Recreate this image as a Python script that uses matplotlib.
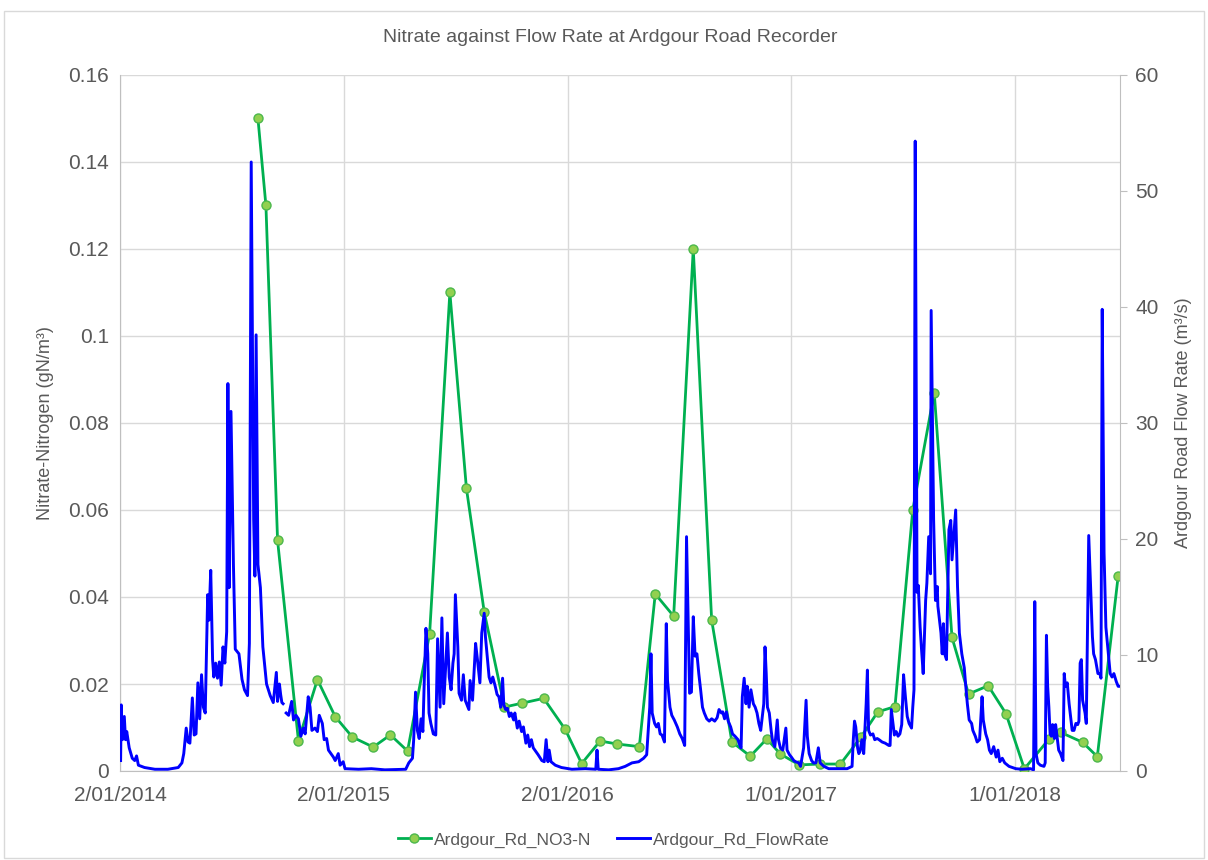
import numpy as np
import pandas as pd
import matplotlib
import matplotlib.pyplot as plt

matplotlib.use('Agg')

# ============================
# Data
# ============================

# Nitrate samples (gN/m3)
no3_dates = ["2014-08-15", "2014-08-28", "2014-09-16", "2014-10-20", "2014-11-20",
             "2014-12-19", "2015-01-16", "2015-02-19", "2015-03-19", "2015-04-16",
             "2015-05-22", "2015-06-24", "2015-07-21", "2015-08-19", "2015-09-21",
             "2015-10-20", "2015-11-24", "2015-12-29", "2016-01-25", "2016-02-24",
             "2016-03-23", "2016-04-28", "2016-05-24", "2016-06-23", "2016-07-25",
             "2016-08-24", "2016-09-26", "2016-10-26", "2016-11-22", "2016-12-14",
             "2017-01-14", "2017-02-16", "2017-03-22", "2017-04-25", "2017-05-22",
             "2017-06-19", "2017-07-18", "2017-08-22", "2017-09-20", "2017-10-17",
             "2017-11-18", "2017-12-17", "2018-01-16", "2018-02-25", "2018-03-16",
             "2018-04-21", "2018-05-15", "2018-06-18"]
no3_vals = [0.150, 0.130, 0.053, 0.007, 0.021,
            0.0125, 0.0078, 0.0055, 0.0083, 0.0046,
            0.0316, 0.110, 0.065, 0.0366, 0.0147,
            0.0156, 0.0167, 0.0096, 0.0017, 0.0069,
            0.0062, 0.0056, 0.0407, 0.0356, 0.120,
            0.0347, 0.0067, 0.0034, 0.0074, 0.0039,
            0.0014, 0.0016, 0.0016, 0.0079, 0.0136,
            0.0148, 0.060, 0.087, 0.0307, 0.0177,
            0.0196, 0.0132, 0.0005, 0.0073, 0.0089,
            0.0066, 0.0033, 0.0448]

# Flow rate (m3/s), days counted from the start of the record
flow_start = "2014-01-02"
nan = np.nan

days_2014 = [1, 2, 4, 7, 9, 11, 15, 20, 24, 27,
             30, 40, 57, 78, 95, 101, 104, 108, 111, 114,
             118, 121, 124, 127, 130, 133, 136, 139, 143, 145,
             148, 151, 153, 156, 159, 162, 165, 168, 171, 174,
             176, 178, 181, 185, 188, 194, 199, 203, 208, 211,
             214, 218, 220, 222, 225, 229, 233, 239, 245, 250,
             255, 257, 260, 262, 264, 266, 268, 271, 275, 280,
             283, 287, 291, 295, 299, 302, 307, 310, 313, 318,
             322, 325, 330, 333, 337, 340, 344, 348, 351, 356,
             359, 364]
flow_2014 = [0.9, 5.7, 2.7, 4.7, 2.7, 3.4, 2.0, 1.1, 0.9, 1.3,
             0.5, 0.3, 0.15, 0.15, 0.3, 0.7, 1.5, 3.7, 2.5, 2.4,
             6.3, 3.1, 3.2, 7.6, 4.5, 8.3, 5.5, 5.0, 15.2, 13.0,
             17.3, 9.6, 8.1, 9.3, 8.0, 9.4, 7.4, 10.7, 9.3, 12.0,
             33.4, 15.8, 31.0, 17.8, 10.5, 10.1, 7.9, 7.0, 6.5, 11.0,
             52.5, 21.7, 16.8, 37.6, 17.8, 15.8, 10.7, 7.5, 6.5, 5.9,
             8.5, 6.0, 7.5, 6.6, 5.9, 5.8, nan, 5.0, 4.8, 6.0,
             4.4, 4.8, 4.5, 3.0, 3.7, 3.2, 6.4, 5.5, 3.5, 3.7,
             3.4, 4.8, 4.1, 2.7, 2.8, 1.8, 1.5, 1.2, 0.9, 1.5,
             0.5, 0.8]

days_2015 = [367, 389, 410, 432, 466, 471, 477, 479, 482, 485,
             488, 491, 494, 496, 499, 502, 504, 507, 511, 515,
             518, 522, 525, 528, 534, 537, 540, 543, 545, 547,
             551, 553, 557, 560, 563, 569, 571, 575, 580, 583,
             587, 590, 594, 596, 600, 602, 605, 608, 612, 615,
             618, 621, 624, 626, 629, 632, 635, 638, 642, 644,
             648, 651, 655, 658, 662, 665, 668, 671, 674, 682,
             688, 692, 695, 698, 700, 703, 710, 720]
flow_2015 = [0.2, 0.15, 0.2, 0.1, 0.15, 0.7, 1.1, 2.7, 6.8, 3.5,
             2.8, 4.5, 3.4, 7.3, 12.3, 10.1, 5.0, 4.1, 3.2, 3.1,
             11.4, 5.5, 13.2, 5.8, 11.9, 8.1, 7.0, 9.3, 10.1, 15.2,
             10.7, 6.7, 6.1, 8.3, 6.1, 5.3, 7.8, 6.1, 11.0, 9.6,
             7.6, 11.9, 13.6, 11.6, 9.3, 8.1, 7.6, 8.1, 7.3, 6.6,
             6.4, 5.5, 8.0, 5.7, 5.3, 5.4, 4.7, 5.0, 4.4, 5.0,
             3.7, 4.3, 3.4, 3.8, 2.4, 3.1, 2.1, 2.7, 2.0, 1.4,
             0.9, 0.8, 2.7, 0.8, 1.8, 0.8, 0.5, 0.3]

days_2016 = [737, 759, 776, 778, 780, 797, 813, 824, 835, 846,
             854, 859, 862, 864, 866, 868, 872, 875, 878, 881,
             884, 888, 891, 893, 897, 900, 904, 909, 913, 917,
             921, 924, 929, 932, 935, 938, 941, 944, 947, 950,
             953, 957, 961, 965, 970, 974, 977, 981, 983, 986,
             989, 992, 996, 999, 1003, 1008, 1011, 1013, 1015, 1018,
             1021, 1023, 1026, 1029, 1033, 1036, 1039, 1042, 1045, 1050,
             1052, 1054, 1056, 1059, 1062, 1064, 1068, 1072, 1074, 1077,
             1081, 1086, 1088, 1092]
flow_2016 = [0.15, 0.2, 0.15, 1.8, 0.15, 0.1, 0.2, 0.4, 0.7, 0.8,
             1.1, 1.4, 3.8, 5.5, 10.1, 5.0, 4.1, 3.8, 4.1, 3.2,
             3.1, 2.5, 12.7, 7.8, 5.5, 4.8, 4.4, 3.8, 3.2, 2.8,
             2.2, 20.2, 6.7, 6.8, 13.3, 9.9, 10.1, 8.4, 7.0, 5.5,
             5.0, 4.5, 4.3, 4.5, 4.3, 4.6, 5.3, 5.0, 5.1, 4.5,
             5.1, 4.3, 3.8, 3.2, 3.0, 2.7, 2.2, 2.0, 6.4, 8.0,
             5.8, 7.3, 5.5, 7.0, 5.8, 5.5, 5.0, 4.1, 3.5, 5.8,
             10.7, 8.4, 5.5, 5.0, 3.5, 2.7, 2.1, 4.4, 2.7, 2.0,
             1.8, 3.7, 1.8, 1.4]

days_2017 = [1095, 1099, 1102, 1107, 1110, 1115, 1119, 1121, 1124, 1128,
             1131, 1135, 1139, 1142, 1148, 1156, 1172, 1186, 1194, 1196,
             1198, 1200, 1203, 1205, 1207, 1210, 1213, 1217, 1219, 1221,
             1224, 1228, 1231, 1235, 1238, 1243, 1248, 1254, 1256, 1258,
             1260, 1263, 1266, 1269, 1272, 1275, 1278, 1281, 1284, 1287,
             1291, 1293, 1295, 1297, 1300, 1302, 1305, 1307, 1310, 1314,
             1316, 1319, 1322, 1323, 1327, 1330, 1333, 1334, 1339, 1341,
             1343, 1345, 1348, 1352, 1355, 1357, 1363, 1366, 1369, 1373,
             1377, 1379, 1382, 1385, 1389, 1391, 1395, 1398, 1402, 1406,
             1408, 1412, 1415, 1418, 1421, 1425, 1429, 1432, 1435, 1439,
             1443, 1450]
flow_2017 = [1.2, 0.9, 0.8, 0.7, 0.4, 2.0, 6.1, 3.0, 1.5, 0.9,
             0.7, 0.7, 2.0, 0.7, 0.4, 0.2, 0.2, 0.2, 0.4, 2.7,
             4.3, 3.8, 2.0, 1.5, 1.7, 2.7, 1.5, 5.8, 8.7, 3.5,
             3.1, 3.2, 2.7, 2.8, 2.7, 2.5, 2.4, 2.2, 2.2, 5.3,
             4.4, 3.1, 3.4, 3.0, 3.2, 4.0, 8.3, 6.4, 4.7, 4.1,
             3.7, 5.5, 7.0, 54.3, 15.4, 16.0, 12.4, 10.7, 8.4, 14.7,
             16.2, 20.2, 17.0, 39.7, 21.7, 14.7, 15.9, 14.2, 11.9, 10.1,
             12.7, 10.1, 9.6, 20.8, 21.6, 18.2, 22.5, 15.9, 11.9, 10.1,
             8.9, 7.6, 5.8, 4.4, 4.1, 3.5, 3.0, 2.5, 2.7, 6.4,
             4.4, 3.2, 2.7, 1.8, 1.5, 2.1, 1.2, 1.8, 0.8, 1.1,
             0.7, 0.4]

days_2018 = [1461, 1471, 1485, 1490, 1492, 1494, 1497, 1501, 1507, 1509,
             1511, 1513, 1515, 1517, 1519, 1521, 1524, 1526, 1529, 1531,
             1534, 1538, 1540, 1542, 1545, 1548, 1551, 1553, 1556, 1559,
             1562, 1564, 1566, 1568, 1570, 1574, 1576, 1580, 1583, 1586,
             1588, 1591, 1593, 1595, 1598, 1600, 1602, 1605, 1608, 1612,
             1615, 1618, 1621, 1625, 1628, 1630]
flow_2018 = [0.2, 0.15, 0.2, 0.1, 14.6, 1.5, 0.7, 0.5, 0.4, 0.7,
             11.7, 7.3, 5.5, 3.2, 3.0, 4.0, 2.8, 4.0, 2.7, 1.8,
             1.5, 0.9, 8.4, 7.3, 7.6, 5.8, 4.4, 3.5, 3.5, 4.1,
             4.0, 4.3, 9.3, 9.6, 6.1, 5.0, 4.1, 20.3, 15.9, 11.6,
             10.1, 9.6, 9.0, 8.4, 8.4, 8.0, 39.8, 18.8, 12.4, 10.1,
             8.4, 8.1, 8.4, 7.7, 7.3, 7.3]

x_ticks = ["2014-01-02", "2015-01-02", "2016-01-02", "2017-01-01", "2018-01-01"]
x_labels = ["2/01/2014", "2/01/2015", "2/01/2016", "1/01/2017", "1/01/2018"]
x_end = "2018-06-21"

left_ticks = [0, 0.02, 0.04, 0.06, 0.08, 0.1, 0.12, 0.14, 0.16]
right_ticks = [0, 10, 20, 30, 40, 50, 60]

# ============================
# Plot
# ============================

FONT = ['Liberation Sans', 'DejaVu Sans']
NARROW = ['Liberation Sans Narrow', 'Liberation Sans', 'DejaVu Sans']
TXT = '#595959'
GRID = '#d9d9d9'
AXIS = '#bfbfbf'

plt.rcParams['font.family'] = FONT

flow_days = days_2014 + days_2015 + days_2016 + days_2017 + days_2018
flow_vals = flow_2014 + flow_2015 + flow_2016 + flow_2017 + flow_2018
flow_dates = pd.Timestamp(flow_start) + pd.to_timedelta(flow_days, unit='D')
no3_x = pd.to_datetime(no3_dates)

fig = plt.figure(figsize=(12.08, 8.6), dpi=100)
ax = fig.add_axes([120 / 1208, 1 - 771 / 860, 1000 / 1208, 696 / 860])
ax2 = ax.twinx()

green, = ax.plot(no3_x, no3_vals, color='#00b050', lw=2, marker='o', ms=6.5,
                 mfc='#92d050', mec='#4cb84c', mew=1, zorder=3)
blue, = ax2.plot(flow_dates, flow_vals, color='#0000ff', lw=2.1, zorder=3)

ax.set_xlim(pd.Timestamp(flow_start), pd.Timestamp(x_end))
ax.set_ylim(0, 0.16)
ax2.set_ylim(0, 60)

ax.set_xticks(pd.to_datetime(x_ticks))
ax.set_xticklabels(x_labels)
ax.set_yticks(left_ticks)
ax.set_yticklabels([f"{v:g}" for v in left_ticks])
ax2.set_yticks(right_ticks)

ax.grid(True, color=GRID, lw=1)
ax.set_axisbelow(True)

for a in (ax, ax2):
    for s in a.spines.values():
        s.set_visible(False)
ax.spines['left'].set_visible(True)
ax.spines['left'].set_color(AXIS)
ax.spines['bottom'].set_visible(True)
ax.spines['bottom'].set_color(AXIS)
ax2.spines['right'].set_visible(True)
ax2.spines['right'].set_color(AXIS)

ax.tick_params(axis='both', length=0, labelsize=15, labelcolor=TXT)
ax.tick_params(axis='x', pad=11)
ax.tick_params(axis='y', pad=8)
ax2.tick_params(axis='y', length=5, color=AXIS, labelsize=15, labelcolor=TXT, pad=6)

ax.set_ylabel('Nitrate-Nitrogen (gN/m³)', fontsize=13, color=TXT, family=NARROW, labelpad=10)
ax2.set_ylabel('Ardgour Road Flow Rate (m³/s)', fontsize=13, color=TXT, family=NARROW, labelpad=12)

fig.text(0.505, 1 - 38 / 860, 'Nitrate against Flow Rate at Ardgour Road Recorder',
         ha='center', va='center', fontsize=14, color=TXT, family=NARROW)

fig.legend([green, blue], ['Ardgour_Rd_NO3-N', 'Ardgour_Rd_FlowRate'],
           loc='center', bbox_to_anchor=(0.508, 1 - 840 / 860), ncol=2, frameon=False,
           fontsize=12.5, labelcolor=TXT, handlelength=1.9, handletextpad=0.15,
           columnspacing=1.5)

fig.add_artist(plt.Rectangle((0.003, 0.002), 0.994, 0.985, transform=fig.transFigure,
                             fill=False, edgecolor=GRID, lw=1))

plt.savefig('out.png', dpi=100)
